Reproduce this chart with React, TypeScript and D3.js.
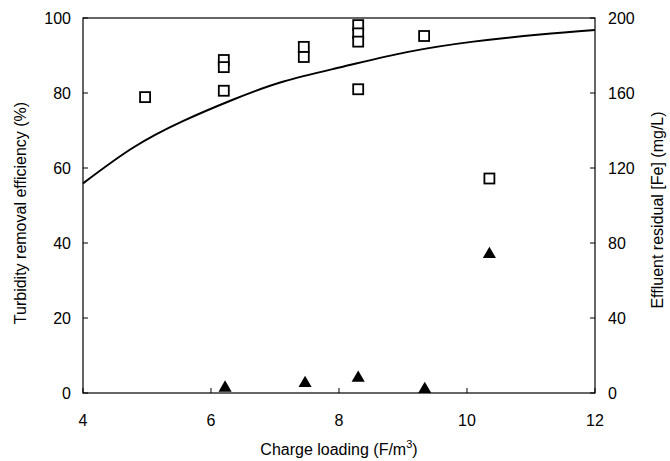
import React from "react";
import * as d3 from "d3";

const xTicks = [4, 6, 8, 10, 12];
const leftTicks = [0, 20, 40, 60, 80, 100];
const rightTicks = [0, 40, 80, 120, 160, 200];

// Turbidity removal efficiency (%) - open squares
const effX = [4.97, 6.2, 6.2, 6.2, 7.45, 7.45, 8.3, 8.3, 8.3, 8.3, 9.33, 10.35];
const effY = [78.9, 88.8, 86.9, 80.6, 92.3, 89.6, 98.1, 95.9, 93.7, 81.0, 95.2, 57.2];

// Effluent residual [Fe] (mg/L) - filled triangles
const feX = [6.22, 7.47, 8.3, 9.34, 10.35];
const feY = [2.7, 5.2, 8.0, 2.0, 74];

// Fitted curve
const curveX = [4, 4.78, 5.56, 6.34, 7.12, 8.06, 9.06, 10.1, 11.14, 12];
const curveY = [55.9, 65.4, 72.5, 78.2, 83.0, 87.0, 90.9, 93.7, 95.6, 96.8];

const W = 670;
const H = 461;
const L = 83, R = 595, T = 18, B = 393;
const font = "Liberation Sans, Arial, sans-serif";
const fs = 16;

export default function App() {
  const x = d3.scaleLinear().domain([4, 12]).range([L, R]);
  const yL = d3.scaleLinear().domain([0, 100]).range([B, T]);
  const yR = d3.scaleLinear().domain([0, 200]).range([B, T]);
  const line = d3
    .line<number>()
    .x((_, i) => x(curveX[i]))
    .y((d) => yL(d))
    .curve(d3.curveNatural);
  const tri = d3.symbol().type(d3.symbolTriangle).size(75)();
  const sq = 10;
  return (
    <svg width={W} height={H} style={{ position: "absolute", left: 0, top: 0 }}>
      <rect x={0} y={0} width={W} height={H} fill="#fff" />
      <rect x={L} y={T} width={R - L} height={B - T} fill="none" stroke="#000" strokeWidth={1.2} />
      {xTicks.map((t) => (
        <g key={"x" + t}>
          <line x1={x(t)} x2={x(t)} y1={B} y2={B - 5} stroke="#000" />
          <text x={x(t)} y={B + 33} textAnchor="middle" fontFamily={font} fontSize={fs}>
            {t}
          </text>
        </g>
      ))}
      {leftTicks.map((t) => (
        <g key={"l" + t}>
          <line x1={L} x2={L + 5} y1={yL(t)} y2={yL(t)} stroke="#000" />
          <text x={L - 12} y={yL(t) + 6} textAnchor="end" fontFamily={font} fontSize={fs}>
            {t}
          </text>
        </g>
      ))}
      {rightTicks.map((t) => (
        <g key={"r" + t}>
          <line x1={R} x2={R - 5} y1={yR(t)} y2={yR(t)} stroke="#000" />
          <text x={R + 13} y={yR(t) + 6} textAnchor="start" fontFamily={font} fontSize={fs}>
            {t}
          </text>
        </g>
      ))}
      <path d={line(curveY) || ""} fill="none" stroke="#000" strokeWidth={2} />
      {effX.map((v, i) => (
        <rect
          key={"s" + i}
          x={x(v) - sq / 2}
          y={yL(effY[i]) - sq / 2}
          width={sq}
          height={sq}
          fill="#fff"
          stroke="#000"
          strokeWidth={1.8}
        />
      ))}
      {feX.map((v, i) => (
        <path key={"t" + i} d={tri || ""} transform={`translate(${x(v)},${yR(feY[i])})`} fill="#000" />
      ))}
      <text x={(L + R) / 2} y={455} textAnchor="middle" fontFamily={font} fontSize={fs}>
        Charge loading (F/m<tspan dy={-7} fontSize={11}>3</tspan>
        <tspan dy={7}>)</tspan>
      </text>
      <text
        transform={`translate(26,213) rotate(-90)`}
        textAnchor="middle"
        fontFamily={font}
        fontSize={fs}
      >
        Turbidity removal efficiency (%)
      </text>
      <text
        transform={`translate(663,210) rotate(-90)`}
        textAnchor="middle"
        fontFamily={font}
        fontSize={fs}
      >
        Effluent residual [Fe] (mg/L)
      </text>
    </svg>
  );
}
